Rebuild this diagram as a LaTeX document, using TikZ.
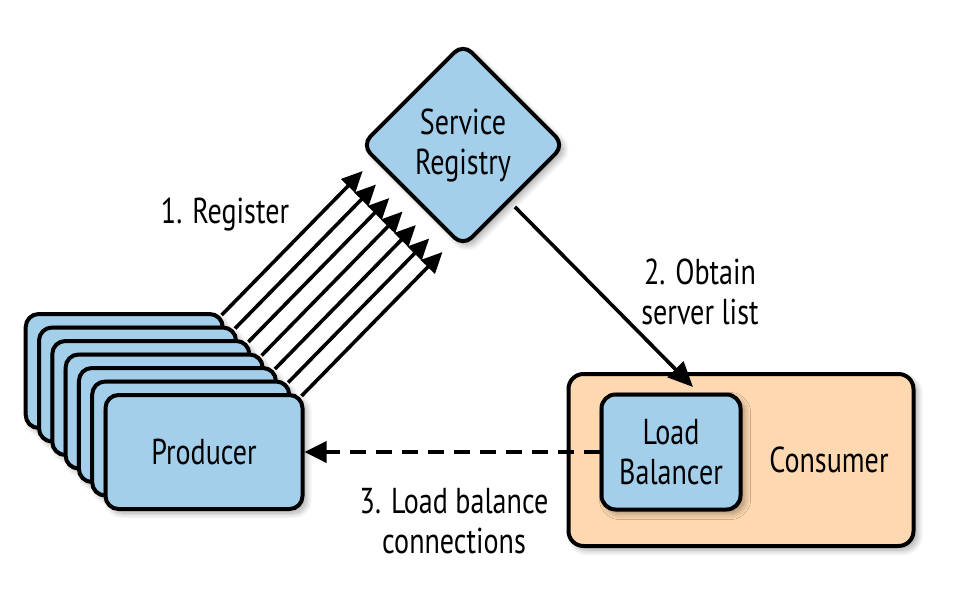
\documentclass[tikz,border=0pt]{standalone}
\usepackage{fontspec}
\setmainfont{PT Sans}[FakeStretch=0.78]
\usetikzlibrary{arrows.meta,shadows.blur,calc}

\definecolor{boxblue}{RGB}{164,207,235}
\definecolor{boxorange}{RGB}{253,216,176}

\begin{document}
\begin{tikzpicture}[x=1pt,y=-1pt,
  outline/.style={draw=black, line width=4pt},
  softshadow/.style={blur shadow={shadow xshift=4pt, shadow yshift=-4pt,
      shadow blur radius=6pt, shadow blur steps=10, shadow opacity=35}},
  txt/.style={font=\fontsize{36}{40}\selectfont, align=center, inner sep=0pt},
  bluebox/.style={outline, fill=boxblue, rounded corners=13pt, softshadow,
      minimum width=197pt, minimum height=114pt, inner sep=0pt},
  arr/.style={line width=3.6pt, -{Triangle[length=21pt,width=19pt]}},
]
\useasboundingbox (0,0) rectangle (956,592);

% stack of producer instances, back to front
\foreach \i in {6,...,1}
  \node[bluebox] (p\i) at ({204-13.3*\i},{452-13.5*\i}) {};
\node[bluebox, txt] (p0) at (204,452) {Producer};

% consumer with its load balancer
\node[outline, fill=boxorange, rounded corners=15pt, softshadow,
      minimum width=345pt, minimum height=172pt] (cons) at (741,460) {};
\node[txt] (ctext) at (829,460) {Consumer};
\node[outline, fill=boxblue, rounded corners=14pt, softshadow, txt,
      minimum width=139pt, minimum height=115pt] (lb) at (671,452) {Load\\Balancer};

% service registry diamond
\node[outline, fill=boxblue, rotate=45, minimum size=143pt, inner sep=0pt,
      rounded corners=12pt, softshadow] (reg) at (463,145) {};
\node[txt] (regtext) at (463,145) {Service\\Registry};

% 1. every producer registers itself
\foreach \i in {0,...,6} {
  \coordinate (s\i) at ($(p\i.north east)+(-3,3)$);
  \coordinate (t\i) at ($(s\i)+(141,-144)$);
  \draw[arr] (s\i) -- (t\i);
}

% 2. consumer fetches the server list
\coordinate (obtainstart) at ($(reg.south)+(0,10)$);
\coordinate (obtainend) at ($(cons.north)+(-48,15)$);
\draw[line width=3.6pt, -{Triangle[length=25pt,width=22pt]}] (obtainstart) -- (obtainend);

% 3. load-balanced connections back to the producers
\draw[line width=3.6pt, dash pattern=on 16pt off 10pt,
      -{Triangle[length=22pt,width=21pt]}] (lb.west) -- (p0.east);

% step labels
\node[txt] (l1) at (225,214) {1. Register};
\node[txt] (l2) at (700,292) {2. Obtain\\server list};
\node[txt] (l3) at (454,521) {3. Load balance\\connections};
\end{tikzpicture}
\end{document}
